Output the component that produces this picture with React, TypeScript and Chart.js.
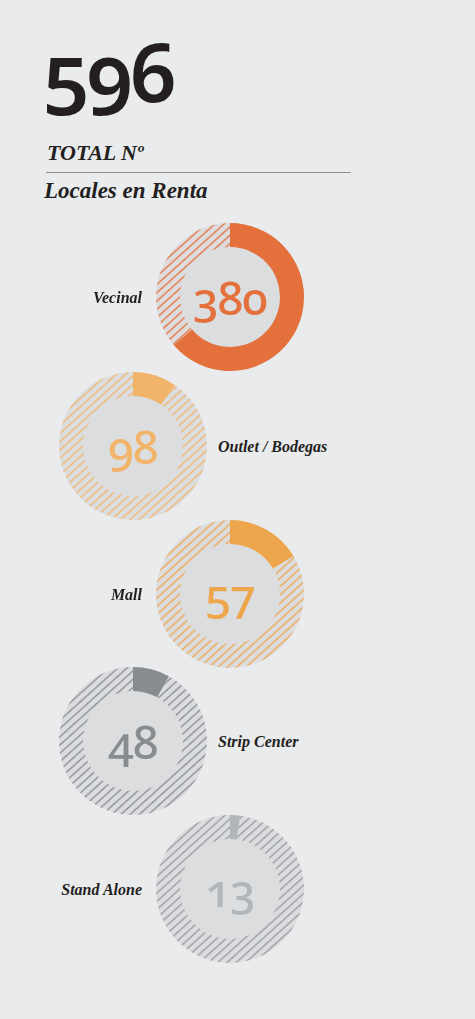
import React, { useEffect, useRef } from "react";
import { Chart, registerables } from "chart.js";

Chart.register(...registerables);

// ---- data ----
const total = 596;
const categories = ["Vecinal", "Outlet / Bodegas", "Mall", "Strip Center", "Stand Alone"];
const centerValues = [380, 98, 57, 48, 13];
// ring shares as drawn in the source graphic (Outlet and Mall rings appear swapped)
const ringValues = [380, 57, 98, 48, 13];
const seriesColors = ["#e4703c", "#f2b46a", "#eea64c", "#898c8f", "#b3b6b9"];
const hatchColors = ["#e4703c", "#f2b46a", "#eea64c", "#898c8f", "#979a9d"];

const PAGE_BG = "#eaebec";
const DISC_BG = "#dcdddf";
const TEXT = "#231f20";
const SIZE = 148;
const CX = [230, 133, 230, 133, 230];
const CY = [297, 446, 594, 741, 889];

function makeHatch(ctx: CanvasRenderingContext2D, color: string): CanvasPattern {
  const tile = document.createElement("canvas");
  tile.width = 24;
  tile.height = 7;
  const t = tile.getContext("2d")!;
  t.fillStyle = color;
  t.fillRect(0, 2.8, 24, 1.5);
  const p = ctx.createPattern(tile, "repeat")!;
  p.setTransform(new DOMMatrix().rotate(-42).scale(1, 0.88));
  return p;
}

function Donut({ idx }: { idx: number }) {
  const ref = useRef<HTMLCanvasElement>(null);
  useEffect(() => {
    const canvas = ref.current!;
    const ctx = canvas.getContext("2d")!;
    const color = seriesColors[idx];
    const hatch = makeHatch(ctx, hatchColors[idx]);
    const discPlugin = {
      id: "disc",
      beforeDatasetsDraw(chart: any) {
        const arc = chart.getDatasetMeta(0).data[0] as any;
        if (!arc) return;
        const { x, y, outerRadius } = arc.getProps(["x", "y", "outerRadius"], true);
        const c = chart.ctx;
        c.save();
        c.beginPath();
        c.arc(x, y, outerRadius, 0, Math.PI * 2);
        c.fillStyle = DISC_BG;
        c.fill();
        c.restore();
      },
    };
    const chart = new Chart(canvas, {
      type: "doughnut",
      data: {
        labels: [categories[idx], "Resto"],
        datasets: [
          {
            data: [ringValues[idx], total - ringValues[idx]],
            backgroundColor: [color, hatch as any],
            borderWidth: 0,
            hoverOffset: 0,
          },
        ],
      },
      options: {
        animation: false,
        responsive: false,
        cutout: "67.5%",
        events: [],
        layout: { padding: 0 },
        plugins: { legend: { display: false }, tooltip: { enabled: false } },
      },
      plugins: [discPlugin],
    });
    return () => chart.destroy();
  }, [idx]);
  return (
    <canvas
      ref={ref}
      width={SIZE}
      height={SIZE}
      style={{ position: "absolute", left: CX[idx] - SIZE / 2, top: CY[idx] - SIZE / 2, width: SIZE, height: SIZE }}
    />
  );
}

const serif = '"Liberation Serif", "DejaVu Serif", serif';
const sans = '"Noto Sans", "Open Sans", sans-serif';

export default function App() {
  useEffect(() => {
    document.body.style.margin = "0";
    document.body.style.background = PAGE_BG;
  }, []);
  return (
    <div style={{ position: "relative", width: 475, height: 1019, background: PAGE_BG, overflow: "hidden" }}>
      <div
        style={{
          position: "absolute",
          left: 43,
          top: 29,
          fontFamily: sans,
          fontWeight: 600,
          fontSize: 82,
          lineHeight: "82px",
          color: TEXT,
          fontFeatureSettings: '"onum" 1',
          letterSpacing: -3,
        }}
      >
        {String(total)}
      </div>
      <div
        style={{
          position: "absolute",
          left: 47,
          top: 142,
          fontFamily: serif,
          fontStyle: "italic",
          fontWeight: 700,
          fontSize: 22,
          lineHeight: "22px",
          color: TEXT,
          whiteSpace: "nowrap",
        }}
      >
        TOTAL Nº
      </div>
      <div style={{ position: "absolute", left: 46, top: 172, width: 305, height: 1, background: "#8d8d8d" }} />
      <div
        style={{
          position: "absolute",
          left: 44,
          top: 179,
          fontFamily: serif,
          fontStyle: "italic",
          fontWeight: 700,
          fontSize: 23,
          lineHeight: "23px",
          color: TEXT,
          whiteSpace: "nowrap",
        }}
      >
        Locales en Renta
      </div>
      {categories.map((cat, i) => (
        <React.Fragment key={cat}>
          <Donut idx={i} />
          <div
            style={{
              position: "absolute",
              left: CX[i] - SIZE / 2,
              top: CY[i] - SIZE / 2,
              width: SIZE,
              height: SIZE,
              display: "flex",
              alignItems: "center",
              justifyContent: "center",
              fontFamily: sans,
              fontWeight: 500,
              fontSize: 46,
              lineHeight: "46px",
              color: seriesColors[i],
              fontFeatureSettings: '"onum" 1',
              letterSpacing: -1,
            }}
          >
            {String(centerValues[i])}
          </div>
          <div
            style={{
              position: "absolute",
              top: CY[i] - 9.5,
              ...(i % 2 === 0 ? { right: 475 - 142, textAlign: "right" as const } : { left: 218 }),
              fontFamily: serif,
              fontStyle: "italic",
              fontWeight: 700,
              fontSize: 16,
              lineHeight: "20px",
              color: TEXT,
              whiteSpace: "nowrap",
            }}
          >
            {cat}
          </div>
        </React.Fragment>
      ))}
    </div>
  );
}
